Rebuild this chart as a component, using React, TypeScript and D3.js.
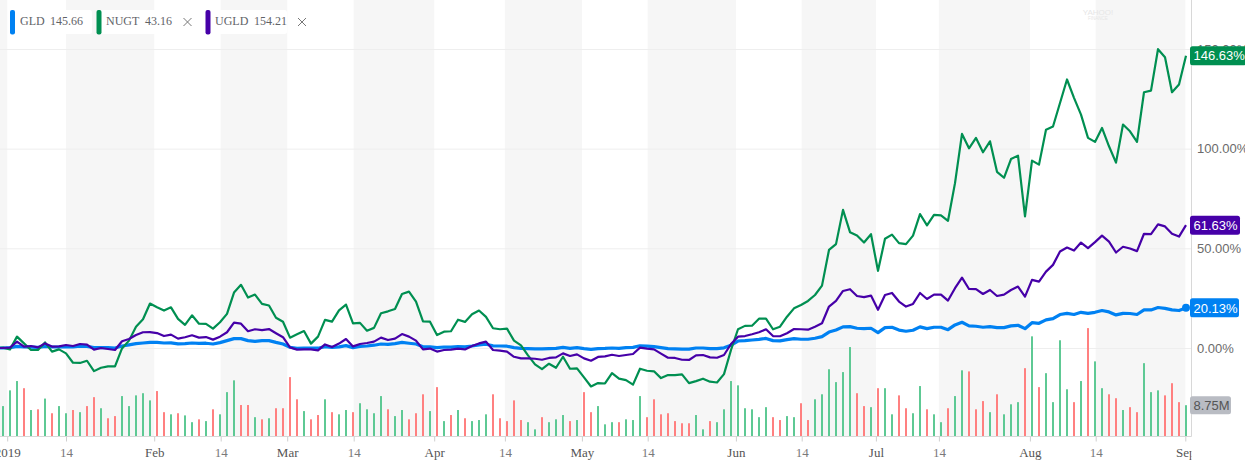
import { useEffect, useRef } from "react";
import { axisBottom, axisRight, line, scaleLinear, select } from "d3";

const WIDTH = 1245;
const HEIGHT = 465;
const PLOT_RIGHT = 1191.5;
const AXIS_Y = 436.5;

const COLORS = { GLD: "#0081f2", NUGT: "#008f51", UGLD: "#4600a8" };
const BAR_UP = "#5ec994";
const BAR_DOWN = "#ff8080";

const tickers = ["GLD", "NUGT", "UGLD"];
const prices = ["145.66", "43.16", "154.21"];

// month/14th ticks, given as (fractional) trading day index
const tickIndex = [0.6, 9, 21.6, 31.1, 40.6, 50.1, 61.6, 71.7, 82.7, 92.1, 104.7, 114.1, 124.7, 133.7, 146.7, 156.1, 168.9];
const tickLabels = ["2019", "14", "Feb", "14", "Mar", "14", "Apr", "14", "May", "14", "Jun", "14", "Jul", "14", "Aug", "14", "Sep"];
const percentTicks = [0, 50, 100, 150];

const gld = [
  0, 0.2, 0.8, 0.5, 0.4, 0.3, 0.8, 0.5, 0.5, 0.7, 0.6, 0.9, 0.8, 0.2, 0.2, 0.2, 0, 1, 1.6, 2.2,
  2.5, 2.8, 2.8, 2.5, 2.6, 2.1, 2.2, 2.5, 2.3, 2.4, 2, 2.7, 3.7, 4.7, 4.7, 3.7, 3.3, 3.7, 3.7, 2.8,
  2, 0.4, -0.2, 0, 0, -0.1, 0.7, 0.3, 0.6, 1.2, 0.2, 0.8, 1, 1.4, 2, 1.8, 2.2, 2.8, 2.4, 2,
  0.6, 0.6, 0.2, 0.5, 0.4, 0.7, 0.6, 1, 1.6, 1.9, 1.1, 1, 0.9, 0.2, -0.2, -0.3, -0.4, -0.4, -0.3, -0.2,
  0.3, -0.2, 0.2, -0.3, -0.7, -0.3, -0.2, 0, -0.2, 0.2, 0.3, 1.1, 0.9, 0.7, 0.2, -0.3, -0.4, -0.6, -0.6, 0,
  0, -0.3, -0.3, 0.1, 1.4, 3.5, 3.7, 4, 4.3, 4.8, 3.7, 3.6, 4.2, 4.7, 4.4, 4.4, 4.9, 5.7, 8, 9,
  10.6, 10.7, 9.9, 9.7, 9.9, 7.7, 10.2, 10.4, 9, 8.4, 8.9, 10.6, 9.7, 10.4, 10.4, 9.2, 11.6, 12.9, 11.1, 10.9,
  10.4, 10.7, 10.2, 10.2, 11.1, 11.4, 9.7, 12.7, 12.4, 14.1, 14.7, 16.8, 17.4, 16.8, 17.9, 17.4, 17.9, 18.8, 18.1, 16.6,
  17.4, 17.3, 16.8, 19.1, 19.1, 20.3, 19.9, 19.1, 18.8, 20.13,
];

const nugt = [
  0.2, -0.7, 5.7, 2.3, -1, -1, 2.8, -1.8, -0.7, -2.7, -7.4, -7.5, -6.4, -11.6, -9.9, -9.2, -9.2, -0.2, 3.7, 10.7,
  14.4, 22.3, 20.4, 18.8, 20.4, 14.6, 11.6, 16.4, 12.2, 12.1, 9.7, 12.9, 17.1, 27.8, 31.7, 25.3, 26.8, 22.1, 21.3, 15.2,
  13.2, 5.2, 6.9, 8.5, 2.2, 5.7, 14.1, 13.2, 18.9, 21.8, 12.4, 12.6, 8.7, 10.1, 17.4, 18.4, 19.6, 27.1, 28.3, 23.3,
  13.4, 13.2, 6.5, 8.2, 8.4, 14.2, 13.1, 16.9, 18.8, 15.6, 9.9, 9.4, 9.7, 3.7, 1.3, -3.7, -8.2, -10.6, -7.9, -9.9,
  -4.4, -10.4, -10.2, -14.7, -19.3, -17.6, -17.8, -12.6, -15.4, -16.1, -18.4, -10.4, -11.4, -11.7, -15.1, -13.6, -13.6, -13.2, -17.6, -16.6,
  -15.4, -16.9, -17.3, -13.1, -1, 9.4, 11.1, 11.2, 14.7, 14.7, 9.4, 10.7, 15.7, 19.9, 21.6, 23.6, 26.6, 31.3, 49.2, 52.1,
  69.3, 58.1, 56.4, 52.9, 57.1, 38.7, 54.8, 56.9, 52.6, 52.1, 56.4, 67.2, 61.5, 66.8, 66.5, 63.8, 82.7, 107.4, 100.2, 105.4,
  98.2, 103.7, 88.4, 85.4, 94.8, 96.5, 66, 94, 92, 109.5, 111.1, 122.9, 134.7, 125.5, 117.1, 105.4, 103.4, 110.4, 101.2, 93,
  112.1, 108.7, 103.4, 128.3, 129.1, 149.9, 145.9, 128.3, 132.2, 146.63,
];

const ugld = [
  0, 0.2, 3.2, 0.7, 1, 0.3, 2.3, 0.7, 0.8, 1.5, 1, 2, 1.7, -0.8, 0, -0.5, -1, 3.4, 4.5, 6.5,
  7.9, 8, 7.5, 6, 6.7, 4.7, 5.4, 6.4, 5.2, 5.5, 4.2, 5.7, 7.9, 12.7, 12.2, 8.4, 9.4, 9, 9.5, 7.4,
  5.4, 0.3, -0.8, -0.7, -0.7, -1.2, 1.8, 0.5, 2.2, 4.5, 0.8, 2, 2.5, 3.2, 5.2, 4, 4.7, 7, 5.7, 3.7,
  -0.7, -0.3, -1.8, -1, -0.8, -0.3, -0.7, 1, 2.3, 3.2, -1, -1.3, -1.8, -4.4, -5.2, -5.2, -5.4, -5.9, -5, -4.7,
  -2.7, -4, -3.2, -5.2, -6.4, -4.5, -4.2, -3.4, -4, -3.5, -3, 0.2, -0.3, -0.7, -2.8, -4.9, -5, -5.9, -6, -3.7,
  -3.5, -4.7, -4.9, -3.5, 2, 5.7, 6, 6.9, 7.9, 9.4, 6, 5.9, 7.4, 9.5, 9.4, 9.2, 10.7, 12.4, 20.8, 23.6,
  28.6, 29.5, 26.1, 25.5, 26.3, 19.2, 26.6, 27.6, 23.3, 20.8, 22.1, 27.6, 24.6, 26.8, 26.8, 23.8, 30, 35.3, 29.6, 29.5,
  27.1, 29.1, 26.1, 26.8, 29.1, 30.8, 25.8, 34.2, 33.3, 38.3, 41.7, 48.4, 50.4, 48.9, 52.9, 50.1, 53.1, 56.4, 53.4, 47.9,
  50.8, 49.9, 48.6, 57.3, 57.1, 62, 61, 57.3, 55.9, 61.63,
];

// volume in millions
const volume = [
  8.5, 12.9, 15.5, 13.5, 7.4, 7.6, 10.6, 6.5, 8.5, 6.5, 7.4, 6.8, 8.5, 11, 7.9, 5.1, 5.7, 11.3, 8.5, 11.5,
  12.1, 10.1, 12.7, 6.8, 6.2, 6.5, 5.9, 4, 4.8, 4.3, 7.6, 6.2, 12.4, 15.7, 8.8, 8.8, 5.4, 4.8, 5.1, 7.9,
  7.9, 16.6, 10.4, 7.1, 4.8, 6, 10.4, 6.8, 6.2, 7.4, 6.8, 9.3, 7.6, 6.5, 11.3, 7.6, 5.7, 7.4, 4.8, 6.5,
  11.8, 7.1, 13.8, 4.3, 6, 7.4, 5.1, 4.3, 4.6, 6.2, 11.8, 5.1, 4.3, 10.1, 4.6, 4, 2, 5.4, 4, 4.8,
  6, 4.3, 4.6, 12.4, 6.8, 8.5, 3.4, 4, 4, 4.8, 4.6, 11.3, 5.4, 10.4, 6.2, 6.5, 4.3, 3.7, 3.7, 6,
  2, 4.3, 4, 7.6, 15.5, 14.3, 7.9, 7.6, 5.4, 8.2, 5.4, 4.6, 5.7, 5.4, 9.3, 4.6, 10.4, 11.8, 18.8, 15.2,
  18, 25, 12.1, 8.5, 8.2, 13.5, 13.5, 6.2, 11.5, 7.9, 6.5, 14.1, 7.6, 6.2, 4, 7.9, 11.3, 18.5, 18.2, 7.6,
  9.9, 6.8, 11.8, 6.2, 9, 9.6, 19.1, 28, 13.8, 17.7, 9.6, 26.9, 13.2, 9.6, 15.5, 30.3, 21, 13.5, 11.8, 10.7,
  7.4, 8.2, 6.8, 20.5, 12.4, 12.9, 11.5, 14.9, 9.6, 8.75,
];

// g = day closed up, r = day closed down, 20 per row
const volumeDirection = [
  "gggrgrgrggrgrrgrrggg",
  "ggrrgrggrgrgggrrgrgr",
  "rrrgrrgrggrggggrggrr",
  "rgrgrgrgggrrrrrggrgg",
  "grgrrgggrgggrrrrrrrg",
  "grggggggggrrggrrgggg",
  "ggrrgrggrrggrggrggrr",
  "rgrgggrgrggggrgrggrr",
  "grrgggrrrg",
].join("");

const tagTexts = ["20.13%", "146.63%", "61.63%"];
const lastVolumeText = "8.75M";

const x = scaleLinear().domain([0, 169]).range([3, 1186]);
const y = scaleLinear().domain([0, 150]).range([348, 49]);
const barHeight = scaleLinear().domain([0, 8.75]).range([0, 31.3]);

// the lines come in from the left edge, one day before the first bar
const pathFor = line<number>()
  .x((_, i) => x(i - 1))
  .y((d) => y(d));

const SERIES = [
  { name: "GLD", values: gld, width: 3.2 },
  { name: "NUGT", values: nugt, width: 2.2 },
  { name: "UGLD", values: ugld, width: 2.2 },
];

const LEGEND = [
  { swatch: 10, text: 20, price: 50, close: null, end: 92 },
  { swatch: 96.5, text: 106, price: 145, close: 187.5, end: 200 },
  { swatch: 205.5, text: 215, price: 254, close: 302, end: 287 },
];

const serif = "'Liberation Serif', serif";
const sans = "'Liberation Sans', Arial, sans-serif";

export default function App() {
  const bottomRef = useRef<SVGGElement>(null);
  const rightRef = useRef<SVGGElement>(null);

  useEffect(() => {
    if (bottomRef.current) {
      const g = select(bottomRef.current);
      g.call(
        axisBottom(x)
          .tickValues(tickIndex)
          .tickFormat((_, i) => tickLabels[i])
          .tickSize(5)
          .tickPadding(6)
      );
      g.select(".domain").remove();
      g.selectAll("line").attr("stroke", "#cfcfcf");
      g.selectAll("text")
        .attr("font-family", serif)
        .attr("font-size", 13)
        .attr("fill", (_, i) => (tickLabels[i] === "14" ? "#7a7a7a" : "#555"));
    }
    if (rightRef.current) {
      const g = select(rightRef.current);
      g.call(
        axisRight(y)
          .tickValues(percentTicks)
          .tickFormat((d) => `${Number(d).toFixed(2)}%`)
          .tickSize(0)
          .tickPadding(5.5)
      );
      g.select(".domain").remove();
      g.selectAll("text")
        .attr("font-family", sans)
        .attr("font-size", 13)
        .attr("fill", "#6b6b6b");
    }
  }, []);

  const bands = [[0, x(tickIndex[0])]];
  for (let i = 1; i + 1 < tickIndex.length; i += 2) {
    bands.push([x(tickIndex[i]), x(tickIndex[i + 1])]);
  }

  const tags = [
    { value: gld[169], w: 49, fill: COLORS.GLD, text: tagTexts[0] },
    { value: nugt[169], w: 56, fill: COLORS.NUGT, text: tagTexts[1] },
    { value: ugld[169], w: 50, fill: COLORS.UGLD, text: tagTexts[2] },
  ];
  const lastBarTop = AXIS_Y - barHeight(volume[169]);

  return (
    <svg
      width={WIDTH}
      height={HEIGHT}
      style={{ position: "absolute", left: 0, top: 0, display: "block", background: "#fff" }}
    >
      <defs>
        <clipPath id="plot-clip">
          <rect x={0} y={0} width={PLOT_RIGHT} height={HEIGHT} />
        </clipPath>
      </defs>

      {bands.map(([a, b], i) => (
        <rect key={i} x={a} y={0} width={b - a} height={AXIS_Y} fill="#f6f6f6" />
      ))}

      {percentTicks.map((p) => (
        <line key={p} x1={0} x2={PLOT_RIGHT} y1={y(p) + 0.5} y2={y(p) + 0.5} stroke="#eeeeee" />
      ))}

      <text x={1098} y={15} textAnchor="middle" fontFamily={sans} fontSize={8} fill="#e6e6e6">
        YAHOO!
      </text>
      <text x={1098} y={20} textAnchor="middle" fontFamily={sans} fontSize={4.5} fill="#e6e6e6">
        FINANCE
      </text>

      {volume.map((v, i) => (
        <rect
          key={i}
          x={x(i) - 1}
          y={AXIS_Y - barHeight(v)}
          width={2}
          height={barHeight(v)}
          fill={volumeDirection[i] === "r" ? BAR_DOWN : BAR_UP}
        />
      ))}

      <line x1={0} x2={PLOT_RIGHT} y1={AXIS_Y} y2={AXIS_Y} stroke="#d8d8d8" />
      <line x1={PLOT_RIGHT} x2={PLOT_RIGHT} y1={0} y2={AXIS_Y} stroke="#d8d8d8" />

      <g clipPath="url(#plot-clip)">
        <g ref={bottomRef} transform={`translate(0, ${AXIS_Y})`} />
      </g>
      <g ref={rightRef} transform={`translate(${PLOT_RIGHT}, 0)`} />

      <g clipPath="url(#plot-clip)">
        {SERIES.map((s) => (
          <path
            key={s.name}
            d={pathFor([0, ...s.values]) ?? undefined}
            fill="none"
            stroke={COLORS[s.name as keyof typeof COLORS]}
            strokeWidth={s.width}
            strokeLinejoin="round"
          />
        ))}
      </g>

      <circle cx={x(169)} cy={y(gld[169])} r={4} fill={COLORS.GLD} />

      {tags.map((t) => (
        <g key={t.text}>
          <rect x={1190} y={y(t.value) - 9.5} width={t.w} height={19} rx={2.5} fill={t.fill} />
          <text x={1193.5} y={y(t.value) + 4.7} fontFamily={sans} fontSize={13} fill="#fff">
            {t.text}
          </text>
        </g>
      ))}

      <rect x={1190} y={lastBarTop - 9} width={41} height={18} rx={2.5} fill="#b9bcc3" />
      <text x={1193.5} y={lastBarTop + 4.7} fontFamily={sans} fontSize={13} fill="#555">
        {lastVolumeText}
      </text>

      {tickers.map((name, i) => {
        const item = LEGEND[i];
        return (
          <g key={name} fontFamily={serif} fontSize={12} fill="#5f6368">
            <rect x={item.swatch} y={10} width={item.end - item.swatch} height={24} rx={2.5} fill="#fff" />
            <rect
              x={item.swatch}
              y={10}
              width={5}
              height={24.5}
              rx={2}
              fill={COLORS[name as keyof typeof COLORS]}
            />
            <text x={item.text} y={25}>
              {name}
            </text>
            <text x={item.price} y={25}>
              {prices[i]}
            </text>
            {item.close !== null && (
              <path
                d={`M${item.close - 4},${18} l8,8 M${item.close + 4},${18} l-8,8`}
                stroke="#777"
                strokeWidth={1}
                fill="none"
              />
            )}
          </g>
        );
      })}
    </svg>
  );
}
